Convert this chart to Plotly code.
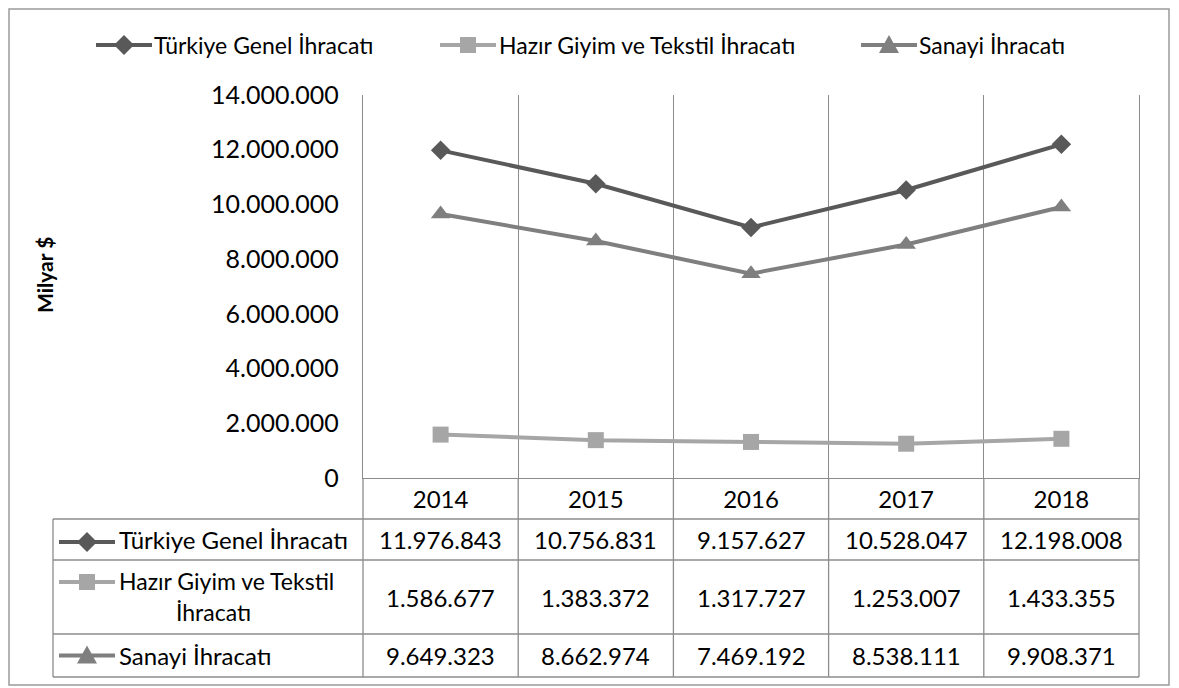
import plotly.graph_objects as go

# --- data ---
years = ["2014", "2015", "2016", "2017", "2018"]
series_names = ["Türkiye Genel İhracatı", "Hazır Giyim ve Tekstil İhracatı", "Sanayi İhracatı"]
# row labels of the data table (second row wraps onto two lines)
table_labels = [["Türkiye Genel İhracatı"], ["Hazır Giyim ve Tekstil", "İhracatı"], ["Sanayi İhracatı"]]
turkiye_genel = [11976843, 10756831, 9157627, 10528047, 12198008]
hazir_giyim = [1586677, 1383372, 1317727, 1253007, 1433355]
sanayi = [9649323, 8662974, 7469192, 8538111, 9908371]
y_ticks = [0, 2000000, 4000000, 6000000, 8000000, 10000000, 12000000, 14000000]

# --- layout helpers (page pixel -> paper) ---
# the html body has an 8px margin, so the figure is a bit smaller than the window
OFF = 8
W, H = 1179 - OFF, 688 - OFF
X0, X1 = 363, 1139      # plot area left / right
Y_TOP, Y_AX = 95, 478   # plot area top / x axis
ROW_Y = [519, 560, 634, 677]
TABLE_LEFT = 53
GRID = "#8c8c8c"
TXT_FONT = "Lato"
TXT_SIZE = 24


def px(x):
    return (x - OFF) / W


def py(y):
    return 1 - (y - OFF) / H


def fmt(v):
    return f"{v:,}".replace(",", ".")


styles = [
    dict(color="#595959", symbol="diamond", size=15),
    dict(color="#a6a6a6", symbol="square", size=16),
    dict(color="#7f7f7f", symbol="triangle-up", size=17),
]
values = [turkiye_genel, hazir_giyim, sanayi]

fig = go.Figure()
for name, vals, st in zip(series_names, values, styles):
    fig.add_trace(go.Scatter(
        x=years, y=vals, name=name, mode="lines+markers",
        line=dict(color=st["color"], width=4),
        marker=dict(symbol=st["symbol"], size=st["size"], color=st["color"]),
        showlegend=False,
    ))

shapes = []
annotations = []


def line(x0, y0, x1, y1, color=GRID, width=1.3):
    shapes.append(dict(type="line", xref="paper", yref="paper",
                       x0=px(x0), y0=py(y0), x1=px(x1), y1=py(y1),
                       line=dict(color=color, width=width)))


def legend_key(cx, cy, st):
    c = st["color"]
    line(cx - 28, cy, cx + 28, cy, color=c, width=4)
    if st["symbol"] == "diamond":
        pts = [(cx - 10, cy), (cx, cy - 10), (cx + 10, cy), (cx, cy + 10)]
    elif st["symbol"] == "square":
        pts = [(cx - 8, cy - 8), (cx + 8, cy - 8), (cx + 8, cy + 8), (cx - 8, cy + 8)]
    else:
        pts = [(cx - 10, cy + 8), (cx, cy - 10), (cx + 10, cy + 8)]
    path = "M " + " L ".join(f"{px(x):.5f},{py(y):.5f}" for x, y in pts) + " Z"
    shapes.append(dict(type="path", xref="paper", yref="paper", path=path,
                       fillcolor=c, line=dict(color=c, width=0)))


def text(x, y, s, anchor="center", size=TXT_SIZE, bold=False, angle=0, family=TXT_FONT):
    annotations.append(dict(
        x=px(x), y=py(y), xref="paper", yref="paper", text=f"<b>{s}</b>" if bold else s,
        showarrow=False, xanchor=anchor, yanchor="middle", textangle=angle,
        font=dict(family=family, size=size, color="black"),
    ))


# outer chart border
shapes.append(dict(type="rect", xref="paper", yref="paper",
                   x0=px(9), y0=py(685), x1=px(1169), y1=py(9),
                   line=dict(color="#9a9a9a", width=1.5)))

# top legend
for cx, tx, name, st in zip([124, 468, 889], [152, 497, 917], series_names, styles):
    legend_key(cx, 45, st)
    text(tx, 45, name, anchor="left", size=23)

# data table grid
col_w = (X1 - X0) / len(years)
for k in range(len(years) + 1):
    line(X0 + k * col_w, Y_AX, X0 + k * col_w, ROW_Y[-1])
for y in ROW_Y:
    line(TABLE_LEFT, y, X1, y)
line(TABLE_LEFT, ROW_Y[0], TABLE_LEFT, ROW_Y[-1])

# table rows
row_mid = [(a + b) / 2 for a, b in zip(ROW_Y[:-1], ROW_Y[1:])]
icon_y = [542, 582, row_mid[2]]
for r, (lab, vals, st) in enumerate(zip(table_labels, values, styles)):
    legend_key(87, icon_y[r], st)
    if len(lab) == 1:
        text(117, row_mid[r], lab[0], anchor="left")
    else:
        text(117, row_mid[r] - 16, lab[0], anchor="left", size=23)
        text(213, row_mid[r] + 15, lab[1], size=23)
    for k, v in enumerate(vals):
        text(X0 + (k + 0.5) * col_w, row_mid[r], fmt(v))

# y axis title
text(45, 275, "Milyar $", bold=True, angle=-90, size=21)

fig.update_layout(
    width=W, height=H,
    margin=dict(l=0, r=0, t=0, b=0, autoexpand=False),
    paper_bgcolor="white", plot_bgcolor="white",
    separators=",.",
    showlegend=False,
    shapes=shapes, annotations=annotations,
    xaxis=dict(
        type="category", domain=[px(X0), px(X1)], range=[-0.5, len(years) - 0.5],
        tickson="boundaries", showgrid=True, gridcolor=GRID, gridwidth=1.3,
        showline=True, linecolor=GRID, linewidth=1.3, ticks="", ticklen=0,
        ticklabelstandoff=0, automargin=False,
        tickfont=dict(family=TXT_FONT, size=TXT_SIZE, color="black"),
    ),
    yaxis=dict(
        domain=[py(Y_AX), py(Y_TOP)], range=[0, 14000000],
        tickvals=y_ticks, tickformat=",d", showgrid=False, zeroline=False,
        showline=True, mirror=True, linecolor=GRID, linewidth=1.3, ticks="", ticklen=0,
        ticklabelstandoff=18, automargin=False,
        tickfont=dict(family=TXT_FONT, size=25, color="black"),
    ),
)

fig.write_html("out.html")
